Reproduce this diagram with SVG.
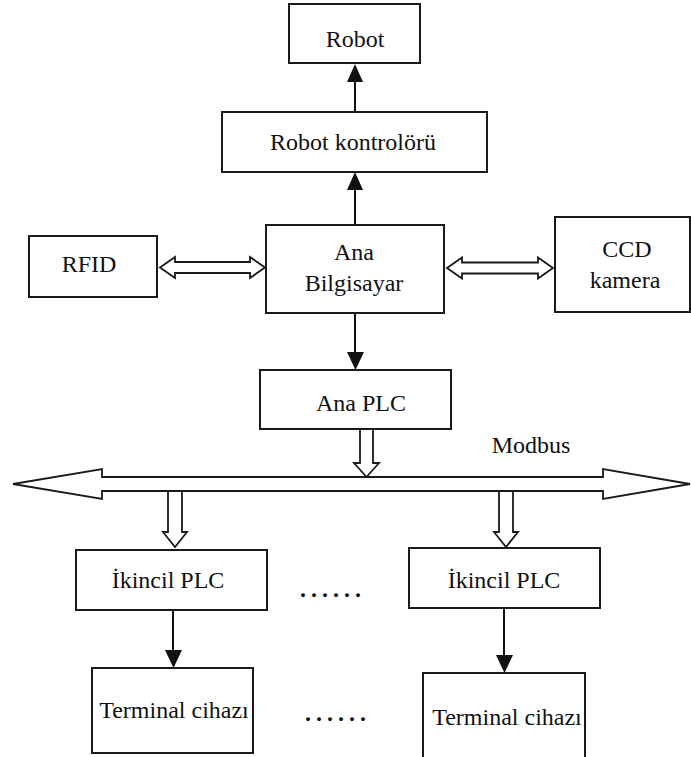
<svg xmlns="http://www.w3.org/2000/svg" width="691" height="757" viewBox="0 0 691 757">
<style>
.box{fill:#fff;stroke:#1a1a1a;stroke-width:2}
.ln{stroke:#111;stroke-width:2;fill:none}
.head{fill:#111;stroke:none}
.hollow{fill:#fff;stroke:#1a1a1a;stroke-width:1.8;stroke-linejoin:miter}
</style>
<rect width="691" height="757" fill="#fff"/>
<g id="connectors">
<line class="ln" x1="355" y1="112" x2="355" y2="80"/>
<polygon class="head" points="347,82 363,82 355,64"/>
<line class="ln" x1="355" y1="225" x2="355" y2="188"/>
<polygon class="head" points="347,190 363,190 355,172"/>
<line class="ln" x1="355" y1="313" x2="355" y2="354"/>
<polygon class="head" points="347,352 364,352 355.5,370"/>
<line class="ln" x1="173" y1="610" x2="173" y2="652"/>
<polygon class="head" points="165,650 182,650 173.5,668"/>
<line class="ln" x1="504" y1="608" x2="504" y2="657"/>
<polygon class="head" points="496,655 513,655 504.5,673"/>
<path class="hollow" d="M160,267.5 L175,257 L175,262 L250,262 L250,257 L265,267.5 L250,278 L250,273 L175,273 L175,278 Z"/>
<path class="hollow" d="M447,268 L462,257.5 L462,262.5 L538,262.5 L538,257.5 L553,268 L538,278.5 L538,273.5 L462,273.5 L462,278.5 Z"/>
<path class="hollow" d="M360,429 L373,429 L373,463 L379,463 L366.5,477 L354,463 L360,463 Z"/>
<path class="hollow" d="M13,484 L102,469 L102,477 L603,477 L603,469 L690,484 L603,499 L603,491 L102,491 L102,499 Z"/>
<path class="hollow" d="M168,491 L182,491 L182,532 L187,532 L175,547 L163,532 L168,532 Z"/>
<path class="hollow" d="M499,491 L513,491 L513,532 L518,532 L506,547 L494,532 L499,532 Z"/>
</g>
<g font-family="Liberation Serif, serif" font-size="24" fill="#111" text-anchor="middle">
<g id="robot">
<rect class="box" x="289" y="4" width="131" height="59"/>
<text x="355" y="47">Robot</text>
</g>
<g id="robot-kontrolor">
<rect class="box" x="222" y="112" width="265" height="60"/>
<text x="353" y="150">Robot kontrolörü</text>
</g>
<g id="rfid">
<rect class="box" x="29" y="236" width="128" height="61"/>
<text x="89" y="272">RFID</text>
</g>
<g id="ana-bilgisayar">
<rect class="box" x="266" y="225" width="178" height="88"/>
<text x="354" y="260">Ana</text>
<text x="354" y="291">Bilgisayar</text>
</g>
<g id="ccd-kamera">
<rect class="box" x="555" y="217" width="135" height="95"/>
<text x="627" y="257">CCD</text>
<text x="625" y="288">kamera</text>
</g>
<g id="ana-plc">
<rect class="box" x="260" y="370" width="191" height="59"/>
<text x="361" y="411">Ana PLC</text>
</g>
<g id="modbus">
<text x="531" y="453">Modbus</text>
</g>
<g id="ikincil-plc-1">
<rect class="box" x="76" y="550" width="191" height="60"/>
<text x="168" y="588">İkincil PLC</text>
</g>
<g id="ikincil-plc-2">
<rect class="box" x="409" y="548" width="191" height="60"/>
<text x="504" y="588">İkincil PLC</text>
</g>
<g id="terminal-1">
<rect class="box" x="92" y="668" width="161" height="85"/>
<text x="174" y="718">Terminal cihazı</text>
</g>
<g id="terminal-2">
<rect class="box" x="423" y="673" width="162" height="86"/>
<text x="507" y="725">Terminal cihazı</text>
</g>
<g id="dots" font-size="24" font-weight="bold" text-anchor="start" letter-spacing="5">
<text x="300" y="597">......</text>
<text x="305" y="721">......</text>
</g>
</g>
</svg>
